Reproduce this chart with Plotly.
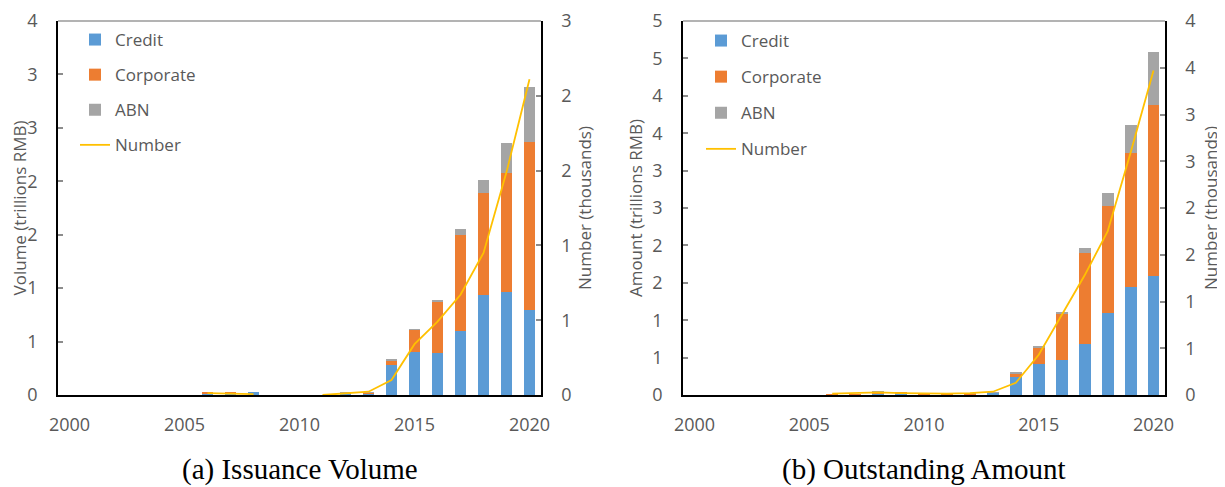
import plotly.graph_objects as go

# ---------------- data ----------------
years = [2006, 2007, 2008, 2009, 2010, 2011, 2012, 2013, 2014, 2015, 2016, 2017, 2018, 2019, 2020]

# (a) Issuance volume, trillions RMB
credit_a = [0.015, 0.015, 0.028, 0, 0, 0, 0.012, 0.018, 0.281, 0.405, 0.390, 0.596, 0.932, 0.960, 0.800]
corp_a = [0.012, 0.004, 0, 0, 0, 0, 0.008, 0.002, 0.040, 0.206, 0.486, 0.898, 0.954, 1.113, 1.570]
abn_a = [0, 0, 0, 0, 0, 0, 0.005, 0.006, 0.009, 0.006, 0.015, 0.059, 0.125, 0.287, 0.508]
# number of issues, thousands
num_a = [0.012, 0.008, 0.006, None, None, 0.0, 0.012, 0.022, 0.100, 0.34, 0.49, 0.67, 0.95, 1.49, 2.11]

# (b) Outstanding amount, trillions RMB
credit_b = [0.003, 0.008, 0.020, 0.025, 0.008, 0.004, 0.012, 0.028, 0.245, 0.410, 0.468, 0.677, 1.092, 1.440, 1.591]
corp_b = [0.002, 0.004, 0.020, 0.002, 0.002, 0.001, 0.004, 0.002, 0.045, 0.222, 0.610, 1.217, 1.439, 1.800, 2.282]
abn_b = [0, 0, 0.013, 0, 0, 0, 0.004, 0.010, 0.020, 0.028, 0.032, 0.071, 0.165, 0.370, 0.712]
num_b = [0.014, 0.018, 0.029, 0.021, 0.014, 0.014, 0.020, 0.035, 0.13, 0.43, 0.855, 1.28, 1.75, 2.59, 3.47]

# tick values / labels
year_ticks = [2000, 2005, 2010, 2015, 2020]
year_ticklabels = ["2000", "2005", "2010", "2015", "2020"]
vol_ticks = [0, 0.5, 1, 1.5, 2, 2.5, 3, 3.5]
vol_ticklabels = ["0", "1", "1", "2", "2", "3", "3", "4"]
numa_ticks = [0, 0.5, 1, 1.5, 2, 2.5]
numa_ticklabels = ["0", "1", "1", "2", "2", "3"]
amt_ticks = [0, 0.5, 1, 1.5, 2, 2.5, 3, 3.5, 4, 4.5, 5]
amt_ticklabels = ["0", "1", "1", "2", "2", "3", "3", "4", "4", "5", "5"]
numb_ticks = [0, 0.5, 1, 1.5, 2, 2.5, 3, 3.5, 4]
numb_ticklabels = ["0", "1", "1", "2", "2", "3", "3", "4", "4"]

series_names = ["Credit", "Corporate", "ABN", "Number"]
captions = ["(a) Issuance Volume", "(b) Outstanding Amount"]

# ---------------- style ----------------
OFF = 8                      # default page body margin
W, H = 1225 - OFF, 487 - OFF
C_CREDIT = "#5B9BD5"
C_CORP = "#ED7D31"
C_ABN = "#A5A5A5"
C_NUM = "#FFC000"
TXT = "#595959"
FONT = "Open Sans"
FS = 17
TFS = 18
BAR_W = 0.52

def px_x(p):
    return (p - OFF) / W

def px_y(p):
    return 1 - (p - OFF) / H

dom_a = [px_x(58), px_x(541)]
dom_b = [px_x(683), px_x(1165)]
dom_y = [px_y(395), px_y(21)]

fig = go.Figure()

def add_panel(xa, ya, ya2, leg, credit, corp, abn, num):
    for name, vals, col in [(series_names[0], credit, C_CREDIT),
                            (series_names[1], corp, C_CORP),
                            (series_names[2], abn, C_ABN)]:
        fig.add_trace(go.Bar(x=years, y=vals, name=name, marker_color=col,
                             marker_line_width=0, width=BAR_W,
                             xaxis=xa, yaxis=ya, legend=leg,
                             legendgroup=leg + name))
    fig.add_trace(go.Scatter(x=years, y=num, name=series_names[3], mode="lines",
                             line=dict(color=C_NUM, width=1.8),
                             connectgaps=False,
                             xaxis=xa, yaxis=ya2, legend=leg,
                             legendgroup=leg + series_names[3]))

add_panel("x", "y", "y2", "legend", credit_a, corp_a, abn_a, num_a)
add_panel("x2", "y3", "y4", "legend2", credit_b, corp_b, abn_b, num_b)

axis_common = dict(showgrid=False, zeroline=False, showline=True, linecolor="black",
                   linewidth=1.5, automargin=False,
                   tickfont=dict(family=FONT, size=TFS, color=TXT))
yax_common = dict(axis_common, ticks="inside", ticklen=5, tickwidth=1.5,
                  tickcolor="#8c8c8c", ticklabelstandoff=15)

xax = dict(axis_common, range=[1999.5, 2020.5], tickvals=year_ticks,
           ticktext=year_ticklabels, ticks="", ticklabelstandoff=13)

title_font = dict(family=FONT, size=FS, color=TXT)

fig.update_layout(
    width=W, height=H,
    margin=dict(l=0, r=0, t=0, b=0, autoexpand=False),
    paper_bgcolor="white", plot_bgcolor="white",
    barmode="stack", bargap=0,
    showlegend=True,
    xaxis=dict(xax, domain=dom_a, anchor="y"),
    xaxis2=dict(xax, domain=dom_b, anchor="y3"),
    yaxis=dict(yax_common, domain=dom_y, anchor="x", range=[0, 3.5],
               tickvals=vol_ticks, ticktext=vol_ticklabels,
               title=dict(text="Volume (trillions RMB)", standoff=7, font=title_font)),
    yaxis2=dict(yax_common, domain=dom_y, anchor="x", overlaying="y", side="right",
                range=[0, 2.5], tickvals=numa_ticks, ticktext=numa_ticklabels,
                title=dict(text="Number (thousands)", standoff=8, font=title_font)),
    yaxis3=dict(yax_common, domain=dom_y, anchor="x2", range=[0, 5],
                tickvals=amt_ticks, ticktext=amt_ticklabels,
                title=dict(text="Amount (trillions RMB)", standoff=5, font=title_font)),
    yaxis4=dict(yax_common, domain=dom_y, anchor="x2", overlaying="y3", side="right",
                range=[0, 4], tickvals=numb_ticks, ticktext=numb_ticklabels,
                title=dict(text="Number (thousands)", standoff=10, font=title_font)),
    legend=dict(x=px_x(75), y=px_y(22), xanchor="left", yanchor="top",
                bgcolor="rgba(0,0,0,0)", traceorder="grouped", tracegroupgap=10,
                font=dict(family=FONT, size=FS, color=TXT)),
    legend2=dict(x=px_x(701), y=px_y(23), xanchor="left", yanchor="top",
                 bgcolor="rgba(0,0,0,0)", traceorder="grouped", tracegroupgap=11,
                 font=dict(family=FONT, size=FS, color=TXT)),
)

# grey top border of each plot area
for xr, yr in [("x domain", "y domain"), ("x2 domain", "y3 domain")]:
    fig.add_shape(type="line", xref=xr, yref=yr, x0=0, x1=1, y0=1, y1=1,
                  line=dict(color="#9a9a9a", width=1.5))

# captions
for text, cx in [(captions[0], (dom_a[0] + dom_a[1]) / 2), (captions[1], (dom_b[0] + dom_b[1]) / 2)]:
    fig.add_annotation(text=text, xref="paper", yref="paper", x=cx, y=px_y(469),
                       xanchor="center", yanchor="middle", showarrow=False,
                       font=dict(family="Liberation Serif", size=29, color="black"))

fig.write_html("out.html")
